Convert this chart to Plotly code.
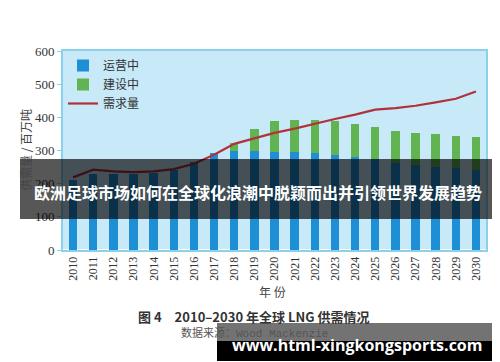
import plotly.graph_objects as go

years = [str(y) for y in range(2010, 2031)]
operating = [210, 230, 230, 230, 232, 242, 265, 292, 299, 299, 297, 297, 293, 287, 280, 275, 262, 257, 250, 247, 241]
construction = [0, 0, 0, 0, 0, 0, 0, 0, 23, 66, 93, 96, 99, 103, 100, 97, 98, 97, 99, 97, 99]
demand = [219, 242, 237, 235, 237, 244, 260, 287, 320, 337, 353, 366, 381, 395, 408, 423, 428, 435, 445, 456, 478]
y_ticks = [0, 100, 200, 300, 400, 500, 600]

CJK = "Noto Sans CJK SC"
SERIF = "Liberation Serif, Times New Roman, serif"

fig = go.Figure()
fig.add_trace(go.Bar(x=years, y=operating, name="运营中", marker=dict(color="#1e8fd5", line=dict(width=0)), width=0.42))
fig.add_trace(go.Bar(x=years, y=construction, name="建设中", marker=dict(color="#62b352", line=dict(width=0)), width=0.42))
fig.add_trace(go.Scatter(x=years, y=demand, name="需求量", mode="lines", line=dict(color="#b2323a", width=2.2)))

fig.update_layout(
    width=500, height=362,
    margin=dict(l=55, r=22, t=43, b=120),
    barmode="stack",
    paper_bgcolor="white",
    plot_bgcolor="#c7e9f8",
    showlegend=True,
    legend=dict(x=0.0, y=1.0, xanchor="left", yanchor="top", bgcolor="rgba(0,0,0,0)",
                traceorder="normal",
                font=dict(family=CJK, size=12, color="#333"), itemwidth=30, tracegroupgap=0),
    xaxis=dict(type="category", tickangle=-90, tickfont=dict(family=SERIF, size=12, color="#333"),
               showline=True, mirror=True, linecolor="#8ad2ec", linewidth=2, showgrid=False, ticks=""),
    yaxis=dict(range=[0, 600], tickvals=y_ticks, tickfont=dict(family=SERIF, size=13, color="#333"),
               showline=True, mirror=True, linecolor="#8ad2ec", linewidth=2, showgrid=False,
               ticks="outside", ticklen=4, tickcolor="#8ad2ec"),
)

plot_top, plot_bottom = 43, 242
plot_left, plot_right = 55, 478
def py(y):
    return (plot_bottom - y) / (plot_bottom - plot_top)
def px(x):
    return (x - plot_left) / (plot_right - plot_left)

def ann(text, x, y, font, angle=0):
    return dict(text=text, x=px(x), y=py(y), xref="paper", yref="paper", showarrow=False,
                textangle=angle, xanchor="center", yanchor="middle", font=font)

annotations = [
    ann("供需量 / 百万吨", 17, 142, dict(family=CJK, size=12, color="#444"), -90),
    ann("年 份", 264, 283, dict(family=CJK, size=12, color="#444")),
    ann("<b>图 4　2010–2030 年全球 LNG 供需情况</b>", 245, 308, dict(family=CJK, size=13, color="#333")),
    ann("数据来源：<span style='font-family:Liberation Mono'>Wood Mackenzie</span>", 246, 324,
        dict(family=CJK, size=11, color="#555")),
    ann("<b>欧洲足球市场如何在全球化浪潮中脱颖而出并引领世界发展趋势</b>", 250, 184,
        dict(family=CJK, size=16, color="white")),
    ann("<b>www.html-xingkongsports.com</b>", 349, 337, dict(family="Open Sans", size=16, color="white")),
]
fig.update_layout(annotations=annotations)

shapes = [
    dict(type="rect", xref="paper", yref="paper", x0=px(12), x1=px(489), y0=py(151), y1=py(211),
         fillcolor="rgba(0,0,0,0.66)", line=dict(width=0), layer="above"),
    dict(type="rect", xref="paper", yref="paper", x0=px(209), x1=px(491), y0=py(315), y1=py(333),
         fillcolor="rgba(0,0,0,0.55)", line=dict(width=0), layer="above"),
    dict(type="rect", xref="paper", yref="paper", x0=px(209), x1=px(491), y0=py(333), y1=py(353),
         fillcolor="black", line=dict(width=0), layer="above"),
]
fig.update_layout(shapes=shapes)

fig.write_html("out.html")
